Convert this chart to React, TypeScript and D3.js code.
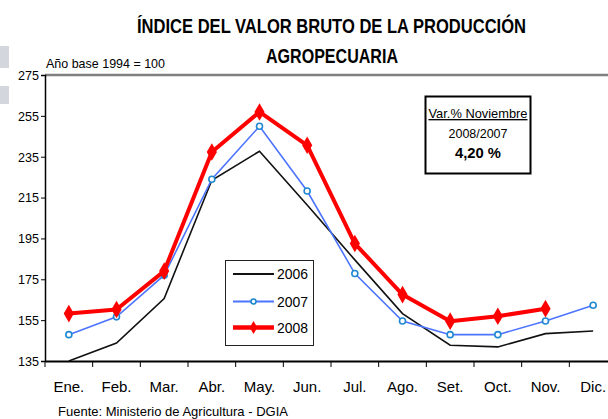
import React, { useEffect, useRef } from 'react';
import * as d3 from 'd3';

const months = ['Ene.', 'Feb.', 'Mar.', 'Abr.', 'May.', 'Jun.', 'Jul.', 'Ago.', 'Set.', 'Oct.', 'Nov.', 'Dic.'];
const yTicks = [135, 155, 175, 195, 215, 235, 255, 275];

const values2006 = [135, 143.8, 165.6, 223.5, 237.7, 211.4, 184.5, 158.2, 142.7, 141.9, 148.4, 149.7];
const values2007 = [147.9, 156.6, 177, 224, 249.9, 218.2, 177.8, 154.6, 147.9, 147.9, 154.6, 162.3];
const values2008 = [158.2, 160.2, 179, 237.3, 256.9, 240.6, 192.5, 167.5, 154.5, 156.9, 160.6];

const seriesNames = ['2006', '2007', '2008'];

const FONT = "'Liberation Sans Narrow', 'Arial Narrow', 'Liberation Sans', Arial, sans-serif";

const App = () => {
  const svgRef = useRef(null);

  useEffect(() => {
    const width = 608;
    const height = 419;
    const margin = { left: 45, top: 75, right: -9, bottom: 58 };

    const svg = d3.select(svgRef.current);
    svg.selectAll('*').remove();
    svg.attr('width', width).attr('height', height);

    const x = d3.scaleBand()
      .domain(months)
      .range([margin.left, width - margin.right]);
    const y = d3.scaleLinear()
      .domain([135, 275])
      .range([height - margin.bottom, margin.top]);
    const cx = (m) => x(m) + x.bandwidth() / 2;

    // faint artifacts at left edge
    svg.append('rect').attr('x', 0).attr('y', 46).attr('width', 9).attr('height', 22).attr('fill', '#d3d6dc');
    svg.append('rect').attr('x', 0).attr('y', 86).attr('width', 9).attr('height', 18).attr('fill', '#d3d6dc');

    // title
    const title = svg.append('g').attr('font-family', FONT).attr('font-weight', 'bold')
      .attr('font-size', 20).attr('fill', '#000');
    title.append('text').attr('x', 137).attr('y', 33)
      .attr('textLength', 389).attr('lengthAdjust', 'spacingAndGlyphs')
      .text('ÍNDICE DEL VALOR BRUTO DE LA PRODUCCIÓN');
    title.append('text').attr('x', 266).attr('y', 63)
      .attr('textLength', 132).attr('lengthAdjust', 'spacingAndGlyphs')
      .text('AGROPECUARIA');

    svg.append('text').attr('x', 46).attr('y', 68).attr('font-family', FONT)
      .attr('font-size', 13.5).attr('textLength', 119).attr('lengthAdjust', 'spacingAndGlyphs')
      .text('Año base 1994 = 100');

    // top border
    svg.append('line').attr('x1', margin.left).attr('x2', width)
      .attr('y1', y(275)).attr('y2', y(275)).attr('stroke', '#808080').attr('stroke-width', 2.5);

    // y axis
    const yAxis = svg.append('g').attr('transform', `translate(${margin.left},0)`)
      .call(d3.axisLeft(y).tickValues(yTicks).tickSize(4).tickFormat(d3.format('d')));
    yAxis.select('.domain').attr('stroke', '#000').attr('stroke-width', 1.5);
    yAxis.selectAll('text').attr('font-family', FONT).attr('font-size', 13.5).attr('fill', '#000')
      .attr('x', -6).attr('textLength', 21).attr('lengthAdjust', 'spacingAndGlyphs');

    // x axis
    const xAxis = svg.append('g').attr('transform', `translate(0,${y(135)})`)
      .call(d3.axisBottom(x).tickSize(6).tickSizeOuter(0));
    xAxis.select('.domain').attr('stroke', '#000').attr('stroke-width', 2);
    xAxis.selectAll('.tick line').attr('transform', `translate(${-x.bandwidth() / 2},0)`).attr('stroke', '#000');
    xAxis.selectAll('text').attr('font-family', FONT).attr('font-size', 15).attr('fill', '#000').attr('dy', '1.45em');

    const line = d3.line().x((d, i) => cx(months[i])).y((d) => y(d));

    svg.append('path').datum(values2006).attr('d', line).attr('fill', 'none')
      .attr('stroke', '#111').attr('stroke-width', 1.6);

    svg.append('path').datum(values2007).attr('d', line).attr('fill', 'none')
      .attr('stroke', '#4d74ff').attr('stroke-width', 1.6);
    svg.selectAll('.p2007').data(values2007).enter().append('circle')
      .attr('cx', (d, i) => cx(months[i])).attr('cy', (d) => y(d)).attr('r', 3)
      .attr('fill', '#fff').attr('stroke', '#1f88d0').attr('stroke-width', 1.6);

    svg.append('path').datum(values2008).attr('d', line).attr('fill', 'none')
      .attr('stroke', '#ff0000').attr('stroke-width', 4).attr('stroke-linejoin', 'round');
    const diamond = d3.symbol().type(d3.symbolDiamond).size(90);
    svg.selectAll('.p2008').data(values2008).enter().append('path')
      .attr('d', diamond)
      .attr('transform', (d, i) => `translate(${cx(months[i])},${y(d)})`)
      .attr('fill', '#ff0000');

    // legend
    const lg = svg.append('g');
    lg.append('rect').attr('x', 225.5).attr('y', 260.5).attr('width', 88).attr('height', 85)
      .attr('fill', '#fff').attr('stroke', '#222').attr('stroke-width', 1);
    const rows = [274, 301.5, 327.5];
    const styles = [
      { c: '#111', w: 2 },
      { c: '#4d74ff', w: 1.8 },
      { c: '#ff0000', w: 4.5 },
    ];
    seriesNames.forEach((name, i) => {
      lg.append('line').attr('x1', 233).attr('x2', 274).attr('y1', rows[i]).attr('y2', rows[i])
        .attr('stroke', styles[i].c).attr('stroke-width', styles[i].w);
      lg.append('text').attr('x', 277).attr('y', rows[i] + 5).attr('font-family', FONT)
        .attr('font-size', 14.5).attr('textLength', 31).attr('lengthAdjust', 'spacingAndGlyphs').text(name);
    });
    lg.append('circle').attr('cx', 253.5).attr('cy', rows[1]).attr('r', 2.5)
      .attr('fill', '#fff').attr('stroke', '#1f88d0').attr('stroke-width', 1.6);
    lg.append('path').attr('d', d3.symbol().type(d3.symbolDiamond).size(50))
      .attr('transform', `translate(253.5,${rows[2]})`).attr('fill', '#ff0000');

    // annotation box
    const ab = svg.append('g').attr('font-family', FONT).attr('text-anchor', 'middle').attr('fill', '#000');
    ab.append('rect').attr('x', 425.5).attr('y', 96.5).attr('width', 105).attr('height', 77)
      .attr('fill', '#fff').attr('stroke', '#000').attr('stroke-width', 2);
    ab.append('text').attr('x', 478).attr('y', 118).attr('font-size', 13.5)
      .attr('text-decoration', 'underline').attr('textLength', 99).attr('lengthAdjust', 'spacingAndGlyphs')
      .text('Var.% Noviembre');
    ab.append('text').attr('x', 478).attr('y', 138).attr('font-size', 13.5)
      .attr('textLength', 59).attr('lengthAdjust', 'spacingAndGlyphs').text('2008/2007');
    ab.append('text').attr('x', 478).attr('y', 158).attr('font-size', 15)
      .attr('font-weight', 'bold').attr('textLength', 46).attr('lengthAdjust', 'spacingAndGlyphs').text('4,20 %');

    svg.append('text').attr('x', 58).attr('y', 416).attr('font-family', FONT)
      .attr('font-size', 13.5).attr('textLength', 230).attr('lengthAdjust', 'spacingAndGlyphs')
      .text('Fuente: Ministerio de Agricultura - DGIA');
  }, []);

  return (
    <div style={{ position: 'absolute', left: 0, top: 0 }}>
      <svg ref={svgRef}></svg>
    </div>
  );
};

export default App;
